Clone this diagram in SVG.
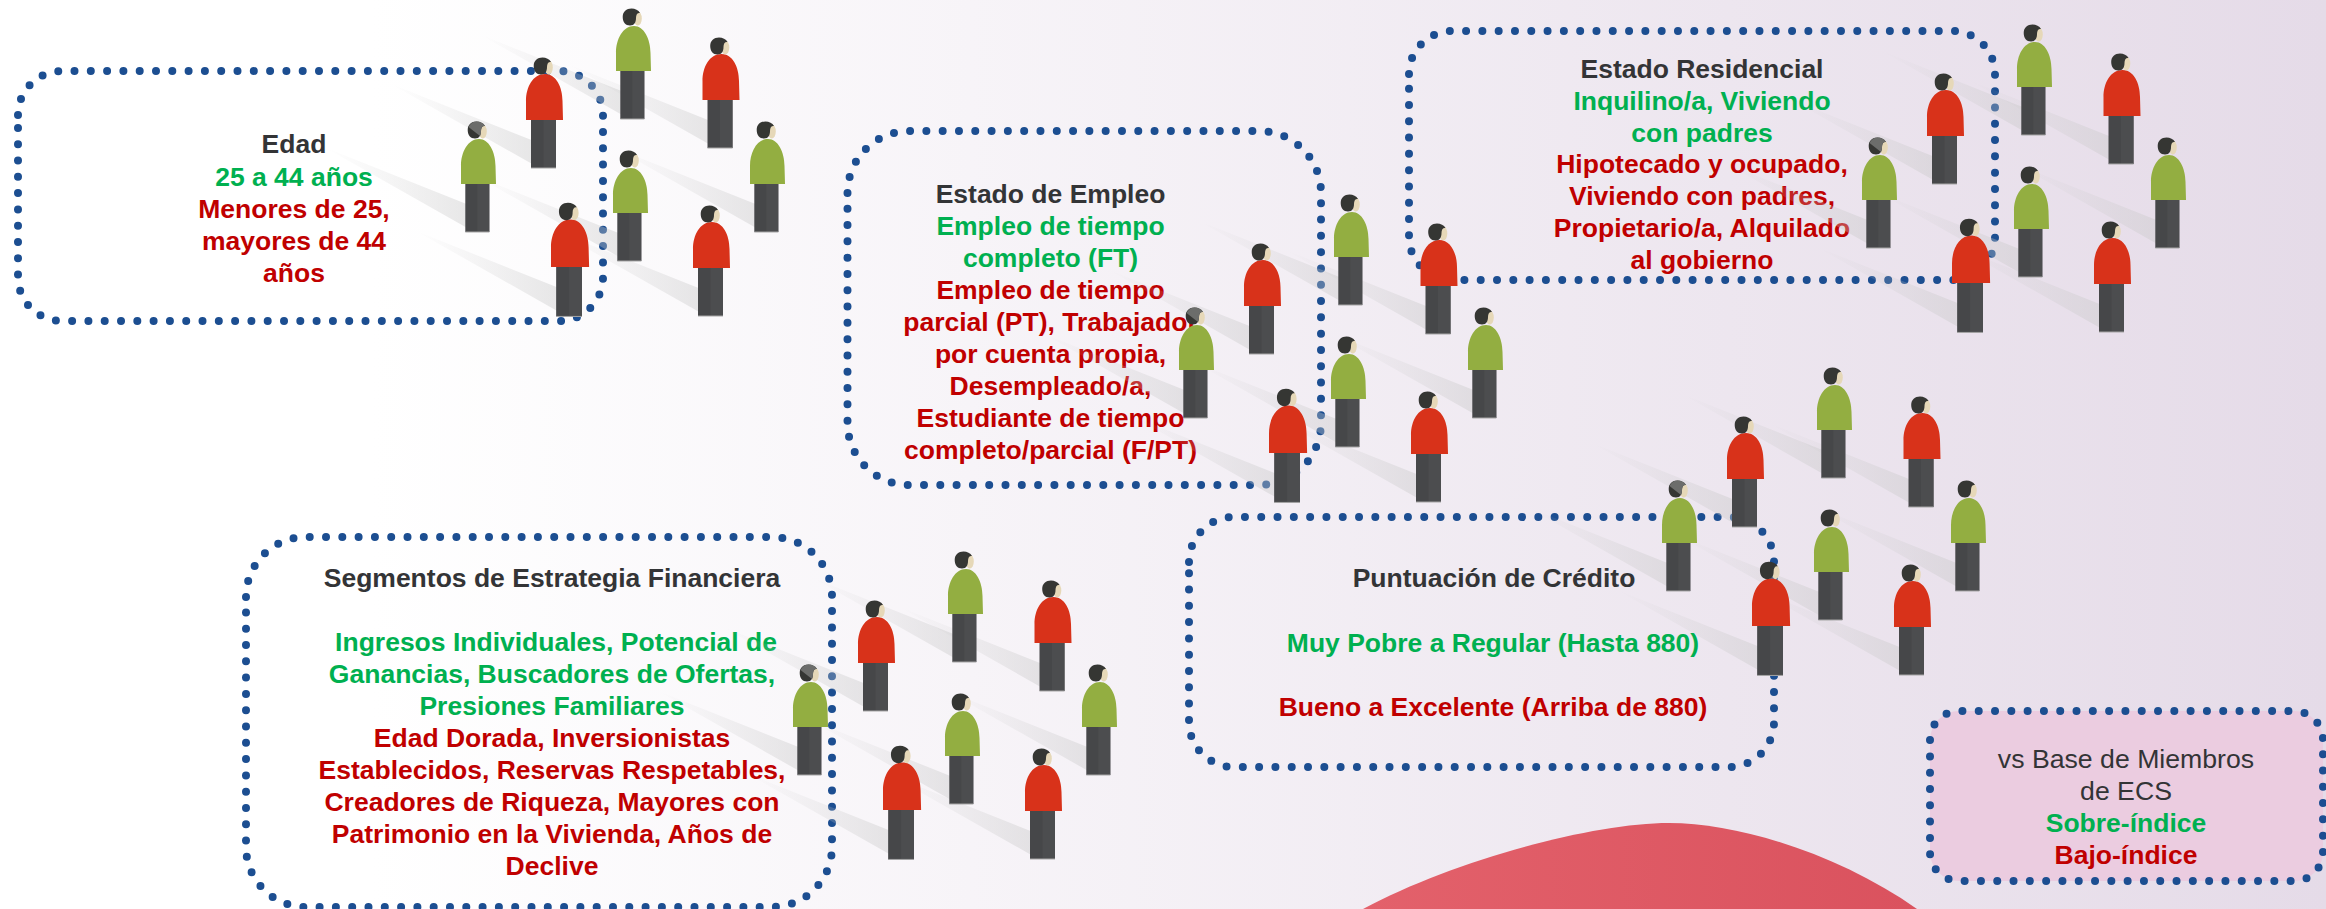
<svg xmlns="http://www.w3.org/2000/svg" width="2326" height="909" viewBox="0 0 2326 909">
<style>
.box{fill:none;stroke:#1c4e91;stroke-width:8;stroke-linecap:round;stroke-dasharray:0 16.3}
text{font-family:"Liberation Sans",Arial,sans-serif;font-size:26.5px;font-weight:700;text-anchor:middle}
.k{fill:#333436}.g{fill:#00b050}.r{fill:#c00000}.n{font-weight:400;font-size:26.67px}
.green{fill:#93ae41}.red{fill:#d8321a}.hair{fill:#353633}.skin{fill:#e6d8b8}
.pl{fill:#464749}.pr{fill:#4c4d4f}.edge{fill:#a5a5a5}
</style>
<defs>
<linearGradient id="bg" x1="0" y1="0" x2="1" y2="0"><stop offset=".16" stop-color="#fff"/><stop offset="1" stop-color="#e5dbe8"/></linearGradient>
<linearGradient id="hump" x1="0" y1="0" x2="1" y2="0"><stop offset="0" stop-color="#e3616b"/><stop offset="1" stop-color="#da525e"/></linearGradient>
<linearGradient id="sh" x1="0" y1="0" x2="1" y2="0"><stop offset="0" stop-color="#c8c8c8" stop-opacity="0"/><stop offset=".4" stop-color="#c8c8c8" stop-opacity=".16"/><stop offset="1" stop-color="#c8c8c8" stop-opacity=".42"/></linearGradient>
<polygon id="shadow" points="-135,-36 8,21 8,45" fill="url(#sh)"/>
<g id="head"><ellipse class="skin" cx="21.800" cy="-52.500" rx="4" ry="7"/><path class="hair" d="M6.700-54C6.700-59.500 10.500-62.500 15.500-62.500C19-62.500 22.500-61 24-58C21.500-58.500 20-56.500 20-53C20-49 18.500-45.500 14-45.500C9.500-45.500 6.700-49 6.700-54Z"/></g>
<g id="grayhead"><use href="#head"/><path fill="#6c6d6b" d="M7.500-57C9-60.500 12-62.500 15.500-62.500C19-62.500 22.500-61 24-58C21.500-58.500 20-56.500 20-53C20-50.500 19.500-49 19-48Z"/></g>
<g id="legs-g"><rect class="pl" x="4.300" y="0" width="24" height="48"/><rect class="pr" x="16.300" y="0" width="12" height="48"/><rect class="edge" x="4.300" y="47.500" width="24" height="1"/></g>
<g id="legs-r"><rect class="pl" x="5" y="0" width="25" height="48"/><rect class="pr" x="17.500" y="0" width="12.500" height="48"/><rect class="edge" x="5" y="47.500" width="25" height="1"/></g>
<path id="shirt-g" class="green" d="M0 0L0-18C0-32 7-45 18-45C28-45 34.500-32 34.500-18L35 0Z"/>
<path id="shirt-r" class="red" d="M0 0L0-19C0-33 7-46 19-46C30-46 36.500-33 36.500-19L37 0Z"/>
<g id="man-g"><use href="#legs-g"/><use href="#shirt-g"/><use href="#head"/></g>
<g id="man-a"><use href="#legs-g"/><use href="#shirt-g"/><use href="#grayhead"/></g>
<g id="man-r"><use href="#legs-r"/><use href="#shirt-r"/><use href="#head" x="1"/></g>
<g id="crowd">
<use href="#shadow" x="461" y="184"/><use href="#shadow" x="616" y="71"/><use href="#shadow" x="750" y="184"/><use href="#shadow" x="613" y="213"/>
<use href="#shadow" x="526" y="120"/><use href="#shadow" x="702.500" y="100"/><use href="#shadow" x="551" y="267"/><use href="#shadow" x="693" y="268"/>
<use href="#man-a" x="461" y="184"/><use href="#man-g" x="616" y="71"/><use href="#man-g" x="750" y="184"/><use href="#man-g" x="613" y="213"/>
<use href="#man-r" x="526" y="120"/><use href="#man-r" x="702.500" y="100"/><use href="#man-r" transform="translate(551 267) scale(1.03)"/><use href="#man-r" x="693" y="268"/>
</g>
</defs>
<rect id="background" width="2326" height="909" fill="url(#bg)"/>
<path id="red-hump" d="M1363 909C1450 862 1590 823 1669 823C1740 823 1840 855 1917 909Z" fill="url(#hump)"/>

<g id="box-edad">
<path class="box" d="M18 115A44 44 0 0 1 62 71H559A44 44 0 0 1 603 115V277A44 44 0 0 1 559 321H62A44 44 0 0 1 18 277Z"/>
<text class="k" x="294" y="153">Edad</text>
<text class="g" x="294" y="186">25 a 44 años</text>
<text class="r" x="294" y="218">Menores de 25,</text>
<text class="r" x="294" y="250">mayores de 44</text>
<text class="r" x="294" y="282">años</text>
</g>

<g id="box-empleo">
<path class="box" d="M847.500 193A62 62 0 0 1 909.500 131H1259A62 62 0 0 1 1321 193V423A62 62 0 0 1 1259 485H909.500A62 62 0 0 1 847.500 423Z"/>
<text class="k" x="1050.500" y="203">Estado de Empleo</text>
<text class="g" x="1050.500" y="235">Empleo de tiempo</text>
<text class="g" x="1050.500" y="267">completo (FT)</text>
<text class="r" x="1050.500" y="299">Empleo de tiempo</text>
<text class="r" x="1050.500" y="331">parcial (PT), Trabajador</text>
<text class="r" x="1050.500" y="363">por cuenta propia,</text>
<text class="r" x="1050.500" y="395">Desempleado/a,</text>
<text class="r" x="1050.500" y="427">Estudiante de tiempo</text>
<text class="r" x="1050.500" y="459">completo/parcial (F/PT)</text>
</g>

<g id="box-residencial">
<path class="box" d="M1409 74A43 43 0 0 1 1452 31H1952A43 43 0 0 1 1995 74V237A43 43 0 0 1 1952 280H1452A43 43 0 0 1 1409 237Z"/>
<text class="k" x="1702" y="78">Estado Residencial</text>
<text class="g" x="1702" y="110">Inquilino/a, Viviendo</text>
<text class="g" x="1702" y="142">con padres</text>
<text class="r" x="1702" y="173">Hipotecado y ocupado,</text>
<text class="r" x="1702" y="205">Viviendo con padres,</text>
<text class="r" x="1702" y="237">Propietario/a, Alquilado</text>
<text class="r" x="1702" y="269">al gobierno</text>
</g>

<g id="box-segmentos">
<path class="box" d="M246 597A60 60 0 0 1 306 537H772A60 60 0 0 1 832 597V847A60 60 0 0 1 772 907H306A60 60 0 0 1 246 847Z"/>
<text class="k" x="552" y="587">Segmentos de Estrategia Financiera</text>
<text class="g" x="556" y="651">Ingresos Individuales, Potencial de</text>
<text class="g" x="552" y="683">Ganancias, Buscadores de Ofertas,</text>
<text class="g" x="552" y="715">Presiones Familiares</text>
<text class="r" x="552" y="747">Edad Dorada, Inversionistas</text>
<text class="r" x="552" y="779">Establecidos, Reservas Respetables,</text>
<text class="r" x="552" y="811">Creadores de Riqueza, Mayores con</text>
<text class="r" x="552" y="843">Patrimonio en la Vivienda, Años de</text>
<text class="r" x="552" y="875">Declive</text>
</g>

<g id="box-credito">
<path class="box" d="M1189 562A45 45 0 0 1 1234 517H1729A45 45 0 0 1 1774 562V722A45 45 0 0 1 1729 767H1234A45 45 0 0 1 1189 722Z"/>
<text class="k" x="1494" y="587">Puntuación de Crédito</text>
<text class="g" x="1493" y="652">Muy Pobre a Regular (Hasta 880)</text>
<text class="r" x="1493" y="716">Bueno a Excelente (Arriba de 880)</text>
</g>

<g id="box-indice">
<path class="box" style="fill:#ebcce0" d="M1930 740A29 29 0 0 1 1959 711H2294A29 29 0 0 1 2323 740V852A29 29 0 0 1 2294 881H1959A29 29 0 0 1 1930 852Z"/>
<text class="k n" x="2126" y="768">vs Base de Miembros</text>
<text class="k n" x="2126" y="800">de ECS</text>
<text class="g" x="2126" y="832">Sobre-índice</text>
<text class="r" x="2126" y="864">Bajo-índice</text>
</g>

<g id="crowd-edad"><use href="#crowd"/></g>
<g id="crowd-residencial"><use href="#crowd" x="1401" y="16"/></g>
<g id="crowd-empleo"><use href="#crowd" x="718" y="186"/></g>
<g id="crowd-credito"><use href="#crowd" x="1201" y="359"/></g>
<g id="crowd-segmentos"><use href="#crowd" x="332" y="543"/></g>
</svg>
